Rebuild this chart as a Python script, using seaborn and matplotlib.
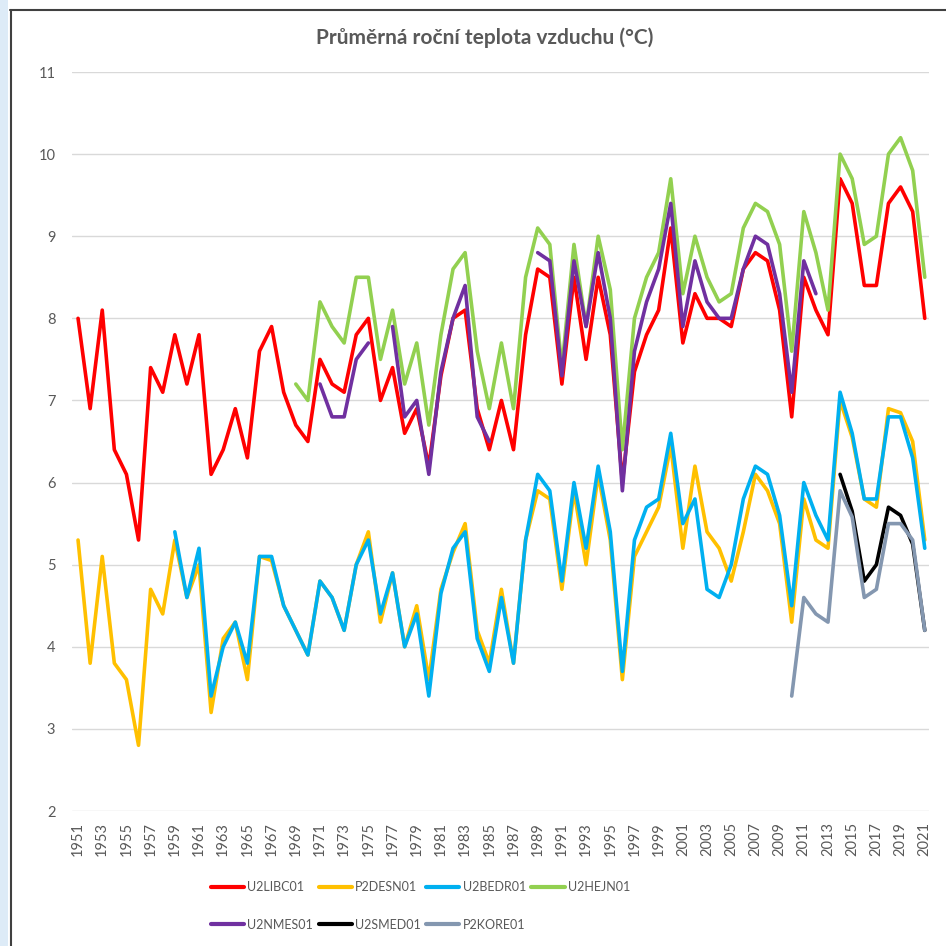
import numpy as np
import pandas as pd
import matplotlib
matplotlib.use("Agg")
import matplotlib.pyplot as plt
import seaborn as sns
from matplotlib.lines import Line2D
from matplotlib.patches import Rectangle

nan = np.nan
years = list(range(1951, 2022))

u2libc01 = [8.0, 6.9, 8.1, 6.4, 6.1, 5.3, 7.4, 7.1, 7.8, 7.2,
            7.8, 6.1, 6.4, 6.9, 6.3, 7.6, 7.9, 7.1, 6.7, 6.5,
            7.5, 7.2, 7.1, 7.8, 8.0, 7.0, 7.4, 6.6, 6.9, 6.2,
            7.3, 8.0, 8.1, 6.9, 6.4, 7.0, 6.4, 7.8, 8.6, 8.5,
            7.2, 8.5, 7.5, 8.5, 7.8, 6.0, 7.35, 7.8, 8.1, 9.1,
            7.7, 8.3, 8.0, 8.0, 7.9, 8.6, 8.8, 8.7, 8.1, 6.8,
            8.5, 8.1, 7.8, 9.7, 9.4, 8.4, 8.4, 9.4, 9.6, 9.3,
            8.0]
p2desn01 = [5.3, 3.8, 5.1, 3.8, 3.6, 2.8, 4.7, 4.4, 5.3, 4.6,
            5.0, 3.2, 4.1, 4.3, 3.6, 5.1, 5.05, 4.5, 4.2, 3.9,
            4.8, 4.6, 4.2, 5.0, 5.4, 4.3, 4.9, 4.0, 4.5, 3.6,
            4.7, 5.15, 5.5, 4.2, 3.8, 4.7, 3.8, 5.3, 5.9, 5.8,
            4.7, 5.9, 5.0, 6.1, 5.3, 3.6, 5.1, 5.4, 5.7, 6.45,
            5.2, 6.2, 5.4, 5.2, 4.8, 5.4, 6.1, 5.9, 5.5, 4.3,
            5.8, 5.3, 5.2, 7.0, 6.55, 5.8, 5.7, 6.9, 6.85, 6.5,
            5.3]
u2bedr01 = [nan] * 8 + [
            5.4, 4.6,
            5.2, 3.4, 4.0, 4.3, 3.8, 5.1, 5.1, 4.5, 4.2, 3.9,
            4.8, 4.6, 4.2, 5.0, 5.3, 4.4, 4.9, 4.0, 4.4, 3.4,
            4.65, 5.2, 5.4, 4.1, 3.7, 4.6, 3.8, 5.3, 6.1, 5.9,
            4.8, 6.0, 5.2, 6.2, 5.4, 3.7, 5.3, 5.7, 5.8, 6.6,
            5.5, 5.8, 4.7, 4.6, 5.0, 5.8, 6.2, 6.1, 5.6, 4.5,
            6.0, 5.6, 5.3, 7.1, 6.6, 5.8, 5.8, 6.8, 6.8, 6.3,
            5.2]
u2hejn01 = [nan] * 18 + [
            7.2, 7.0,
            8.2, 7.9, 7.7, 8.5, 8.5, 7.5, 8.1, 7.2, 7.7, 6.7,
            7.8, 8.6, 8.8, 7.6, 6.9, 7.7, 6.9, 8.5, 9.1, 8.9,
            7.4, 8.9, 7.9, 9.0, 8.35, 6.4, 8.0, 8.5, 8.8, 9.7,
            8.3, 9.0, 8.5, 8.2, 8.3, 9.1, 9.4, 9.3, 8.9, 7.6,
            9.3, 8.8, 8.1, 10.0, 9.7, 8.9, 9.0, 10.0, 10.2, 9.8,
            8.5]
u2nmes01 = [nan] * 20 + [
            7.2, 6.8, 6.8, 7.5, 7.7, nan, 7.9, 6.8, 7.0, 6.1,
            7.35, 8.0, 8.4, 6.8, 6.5, nan, nan, nan, 8.8, 8.7,
            7.3, 8.7, 7.9, 8.8, 8.0, 5.9, 7.6, 8.2, 8.6, 9.4,
            7.9, 8.7, 8.2, 8.0, 8.0, 8.6, 9.0, 8.9, 8.3, 7.1,
            8.7, 8.3] + [nan] * 9
u2smed01 = [nan] * 63 + [6.1, 5.65, 4.8, 5.0, 5.7, 5.6, 5.25, 4.2]
p2kore01 = [nan] * 59 + [3.4, 4.6, 4.4, 4.3, 5.9, 5.58, 4.6, 4.7, 5.5, 5.5, 5.3, 4.2]

stations = ["U2LIBC01", "P2DESN01", "U2BEDR01", "U2HEJN01",
            "U2NMES01", "U2SMED01", "P2KORE01"]
colors = ["#FF0000", "#FFC000", "#00B0F0", "#92D050",
          "#7030A0", "#000000", "#8497B0"]
series = [u2libc01, p2desn01, u2bedr01, u2hejn01, u2nmes01, u2smed01, p2kore01]

rows = []
for name, vals in zip(stations, series):
    seg = 0
    gap = True
    for yr, v in zip(years, vals):
        if v is None or np.isnan(v):
            gap = True
            continue
        if gap:
            seg += 1
            gap = False
        rows.append((name, yr, v, seg))
df = pd.DataFrame(rows, columns=["stanice", "rok", "teplota", "usek"])

sns.set_style("white")
plt.rcParams["font.family"] = ["Lato", "DejaVu Sans"]

W = H = 946
fig = plt.figure(figsize=(W / 100, H / 100), dpi=100)
fig.patch.set_facecolor("white")
ax = fig.add_axes([72 / W, 1 - 811 / H, (929 - 72) / W, (811 - 72) / H])

sns.lineplot(data=df, x="rok", y="teplota", hue="stanice", hue_order=stations,
             palette=colors, units="usek", estimator=None, sort=False,
             linewidth=2.6, legend=False, ax=ax,
             solid_joinstyle="round", solid_capstyle="round")

ax.set_xlim(1950.5, 2021.35)
ax.set_ylim(2, 11)
ax.set_yticks(range(2, 12))
ax.set_xticks(years[::2])
ax.set_xticklabels([str(y) for y in years[::2]], rotation=90)
ax.set_xlabel("")
ax.set_ylabel("")
for s in ax.spines.values():
    s.set_visible(False)
ax.yaxis.grid(True, color="#D9D9D9", linewidth=1.0)
ax.xaxis.grid(False)
ax.set_axisbelow(True)
ax.tick_params(axis="y", length=0, pad=12, labelsize=10.5, labelcolor="#595959")
ax.tick_params(axis="x", length=0, pad=8, labelsize=10.5, labelcolor="#595959")

fig.text(485 / W, 1 - 38 / H, "Průměrná roční teplota vzduchu (°C)",
         ha="center", va="center", fontsize=15, fontweight="bold", color="#595959")

# legend (column-major order to get row-major appearance)
order = [0, 4, 1, 5, 2, 6, 3]
handles = [Line2D([0], [0], color=colors[i], lw=3.0, solid_capstyle="round") for i in order]
labels = [stations[i] for i in order]
leg = fig.legend(handles, labels, ncol=4, loc="upper left",
                 bbox_to_anchor=(211 / W, 1 - 881 / H), frameon=False,
                 fontsize=9.0, handlelength=2.65, handletextpad=0.25,
                 columnspacing=0.45, labelspacing=2.05, borderpad=0, borderaxespad=0)
for t in leg.get_texts():
    t.set_color("#595959")

# screenshot frame
fig.add_artist(Rectangle((0, 0), 8 / W, 1, transform=fig.transFigure,
                         facecolor="#DDEBF7", edgecolor="none"))
fig.add_artist(Line2D([10.5 / W, 10.5 / W], [0, 1 - 10 / H], transform=fig.transFigure,
                      color="#404040", lw=1.5))
fig.add_artist(Line2D([10 / W, 1], [1 - 10.5 / H, 1 - 10.5 / H], transform=fig.transFigure,
                      color="#404040", lw=1.5))

fig.savefig("out.png", dpi=100)
